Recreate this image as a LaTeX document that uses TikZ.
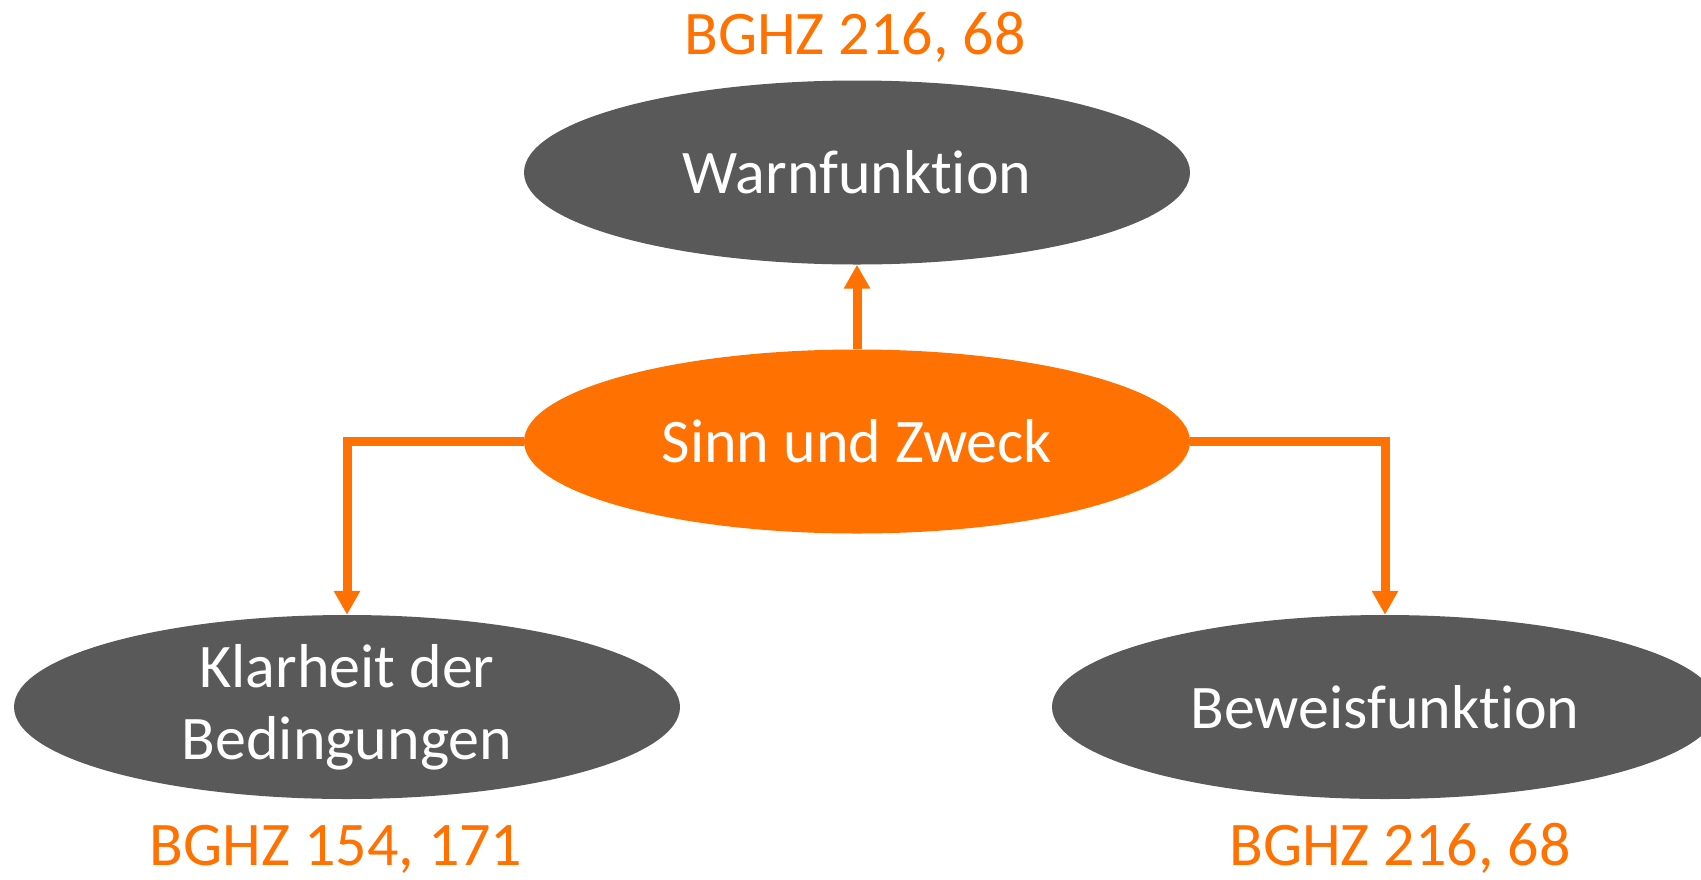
\documentclass[tikz,border=0pt]{standalone}
\usepackage{fontspec}
\setmainfont{Carlito}[RawFeature={-liga;-clig}]
\usetikzlibrary{shapes.geometric,arrows.meta}
\definecolor{darkgrey}{HTML}{595959}
\definecolor{accent}{HTML}{FF7100}
\tikzset{
  bubble/.style={ellipse, draw=none, fill=darkgrey, text=white,
    minimum width=666pt, minimum height=184pt, inner sep=0pt,
    align=center, font=\fontsize{62}{72}\selectfont},
  hub/.style={bubble, fill=accent},
  cite/.style={text=accent, anchor=base, inner sep=0pt,
    font=\fontsize{62}{72}\selectfont},
  conn/.style={draw=accent, line width=9pt,
    -{Triangle[width=25pt,length=24pt]}}
}
\begin{document}
\begin{tikzpicture}[x=1pt,y=-1pt]
\useasboundingbox (0,0) rectangle (1701,879);
\begin{scope}
\clip (0,0) rectangle (1701,879);
\node[bubble] (warn) at (857,172.5) {Warnfunktion};
\node[hub]    (sinn) at (857,441.5) {Sinn und Zweck};
\node[bubble] (klar) at (347,707) {Klarheit der\\Bedingungen};
\node[bubble] (bew)  at (1385,707) {Beweisfunktion};

\node[cite] (c1) at (855,54) {BGHZ 216, 68};
\node[cite] (c2) at (336,865) {BGHZ 154, 171};
\node[cite] (c3) at (1400,865) {BGHZ 216, 68};

\draw[conn] (sinn.north) -- (warn.south);
\draw[conn] (sinn.west) -| (klar.north);
\draw[conn] (sinn.east) -| (bew.north);
\end{scope}
\end{tikzpicture}
\end{document}
